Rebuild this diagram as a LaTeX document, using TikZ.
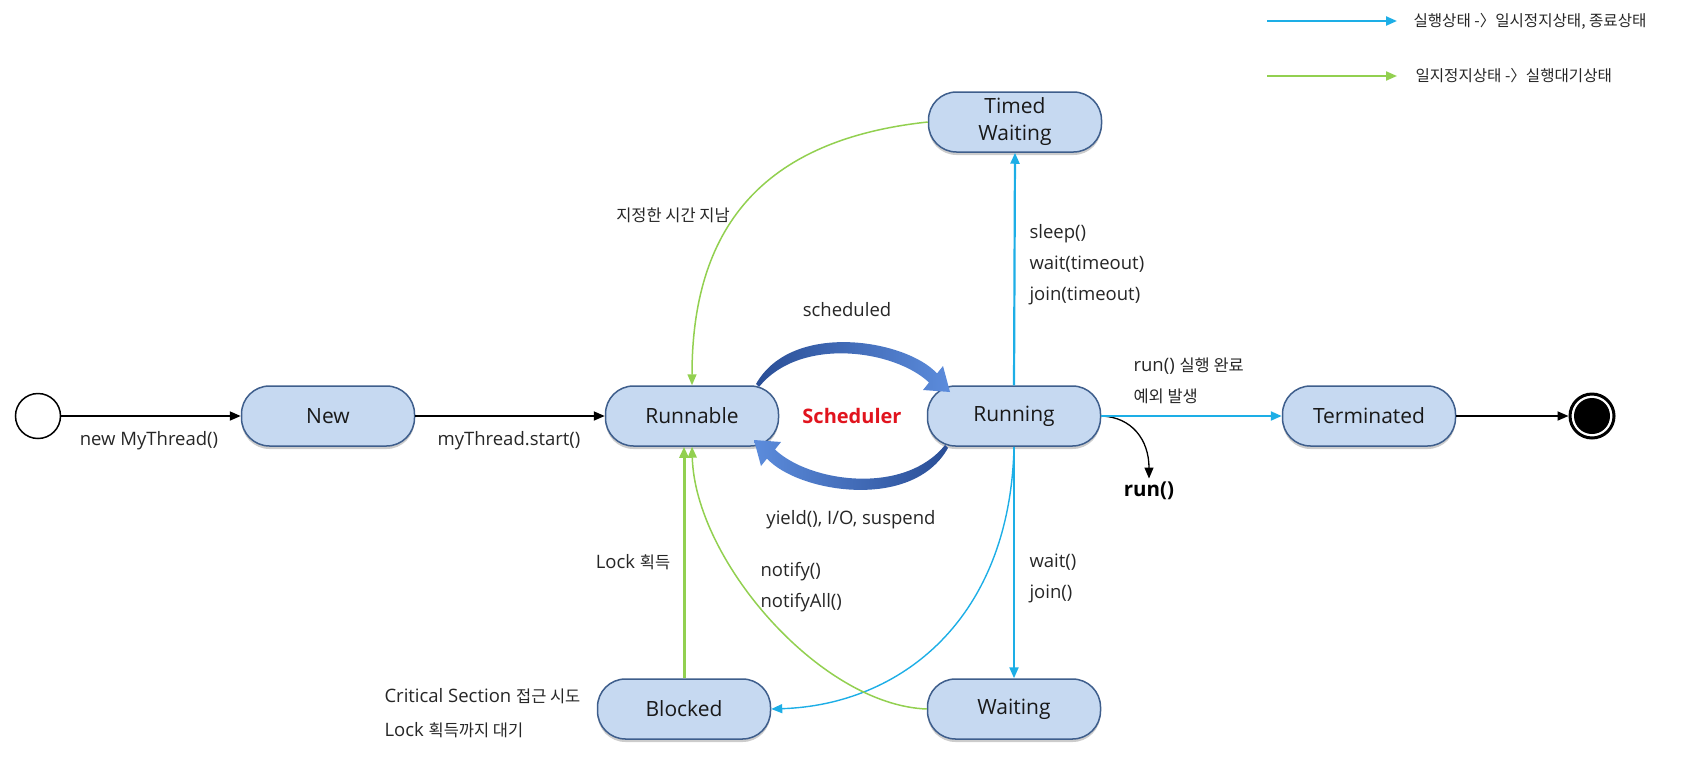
\documentclass[tikz,border=0pt]{standalone}
\usepackage{fontspec}
\setmainfont{Open Sans}
\newfontfamily\kr[Scale=0.89]{Noto Sans CJK KR}
\usepackage{tikz}
\usetikzlibrary{arrows.meta}
\usetikzlibrary{shadows}

\definecolor{statefill}{RGB}{198,217,241}
\definecolor{stateline}{RGB}{62,94,140}
\definecolor{runblue}{RGB}{29,174,230}
\definecolor{waitgreen}{RGB}{146,208,80}
\definecolor{schedred}{RGB}{225,20,30}
\definecolor{scheddark}{RGB}{42,78,150}
\definecolor{schedlight}{RGB}{92,140,220}

\tikzset{
  statebox/.style={draw=stateline, line width=1.5pt, fill=statefill,
    rounded corners=28pt, minimum width=173pt, minimum height=60pt,
    align=center, font=\fontsize{21}{27}\selectfont, text=black!90,
    drop shadow={shadow xshift=0pt, shadow yshift=-3pt, fill=black, opacity=0.2}},
  startdot/.style={circle, draw=black, line width=1.5pt, fill=white,
    minimum size=45pt, inner sep=0pt},
  enddot/.style={circle, draw=black, line width=3pt, fill=white,
    minimum size=44pt, inner sep=0pt,
    path picture={\fill[black] (path picture bounding box.center) circle (18pt);}},
  lbl/.style={font=\fontsize{18.5}{31}\selectfont, text=black!85, align=left},
  legendlbl/.style={lbl, font=\fontsize{17.5}{22}\selectfont, anchor=west},
  sched/.style={font=\bfseries\fontsize{20}{24}\selectfont, text=schedred},
  runlbl/.style={font=\bfseries\fontsize{20.5}{24}\selectfont, text=black},
  tip/.style={-{Triangle[length=11pt, width=9pt]}},
  blackarrow/.style={tip, draw=black, line width=1.8pt},
  bluearrow/.style={tip, draw=runblue, line width=2.2pt},
  greenarrow/.style={tip, draw=waitgreen, line width=1.5pt},
  arcfill/.style={left color=scheddark, right color=schedlight},
  schedarc/.pic={
    \shade[arcfill] (-96,-32) .. controls (-60,-96) and (55,-76) .. (85,-42.5)
      -- (91,-50) -- (98,-24) -- (71,-26) -- (77,-33.5)
      .. controls (43,-66) and (-52,-80) .. (-93,-29) -- cycle;
  }
}

\begin{document}
\begin{tikzpicture}[x=1pt,y=-1pt]
\useasboundingbox (0,0) rectangle (1697,761);

% Drawing states
\node[startdot] (init) at (38,416) {};
\node[statebox] (new) at (328,416) {New};
\node[statebox] (runnable) at (692,416) {Runnable};
\node[statebox] (running) at (1014,416) {Running};
\node[statebox] (term) at (1369,416) {Terminated};
\node[enddot] (final) at (1592,416) {};
\node[statebox] (timed) at (1015,122) {Timed\\Waiting};
\node[statebox] (blocked) at (684,709) {Blocked};
\node[statebox] (waiting) at (1014,709) {Waiting};

% Scheduler in the middle
\node[sched] (scheduler) at (852,416) {Scheduler};
\pic at (scheduler.center) {schedarc};
\pic[rotate=180, arcfill/.style={left color=schedlight, right color=scheddark}] at (scheduler.center) {schedarc};
\node[lbl] (lsched) at (847,310) {scheduled};
\node[lbl] (lyield) at (851,520) {yield(), I/O, suspend};

% Labels
\node[lbl] (lnew) at (149,441) {new MyThread()};
\node[lbl] (lstart) at (509,441) {myThread.start()};
\node[lbl] (ltimed) at (673,215) {\kr 지정한 시간 지남};
\node[lbl, anchor=west] (lsleep) at (1026,265) {sleep()\\wait(timeout)\\join(timeout)};
\node[lbl, anchor=west] (lwait) at (1026,578) {wait()\\join()};
\node[lbl, anchor=west] (lrun) at (1130,381) {run() {\kr 실행 완료}\\{\kr 예외 발생}};
\node[lbl] (llock) at (633,562) {Lock {\kr 획득}};
\node[lbl, anchor=west] (lnotify) at (757,587) {notify()\\notifyAll()};
\node[lbl, anchor=west, font=\fontsize{18.5}{34}\selectfont] (lcrit) at (381,713)
  {Critical Section {\kr 접근 시도}\\Lock {\kr 획득까지 대기}};
\node[runlbl] (runtxt) at (1149,491) {run()};

% Drawing black transitions
\draw[blackarrow] (init) -- (new);
\draw[blackarrow] (new) -- (runnable);
\draw[blackarrow] (term) -- (final);
\draw[tip, draw=black, line width=1.3pt] (running.east) .. controls (1132,417) and (1149,440) .. (runtxt.north);

% Drawing blue transitions
\draw[bluearrow] (running.north) -- (timed.south);
\draw[bluearrow] (running.south) -- (waiting.north);
\draw[bluearrow] (running.east) -- (term.west);
\draw[bluearrow, line width=1.4pt] (running.south) .. controls (1010,620) and (900,705) .. (blocked.east);

% Drawing green transitions
\draw[greenarrow] (timed.west) .. controls (760,140) and (692,230) .. (runnable.north);
\draw[greenarrow, line width=3pt] (blocked.north) -- (blocked.north |- runnable.south);
\draw[greenarrow] (waiting.west) .. controls (820,705) and (695,560) .. (runnable.south);

% Legend
\node[legendlbl] (lgblue) at (1410,21) {\kr 실행상태 -〉일시정지상태, 종료상태};
\node[legendlbl] (lggreen) at (1412,76) {\kr 일지정지상태 -〉실행대기상태};
\coordinate (lgbluestart) at (1267,21);
\coordinate (lggreenstart) at (1267,76);
\draw[bluearrow] (lgbluestart) -- ([xshift=-13pt]lgblue.west);
\draw[greenarrow, line width=2pt] (lggreenstart) -- ([xshift=-15pt]lggreen.west);
\end{tikzpicture}
\end{document}
